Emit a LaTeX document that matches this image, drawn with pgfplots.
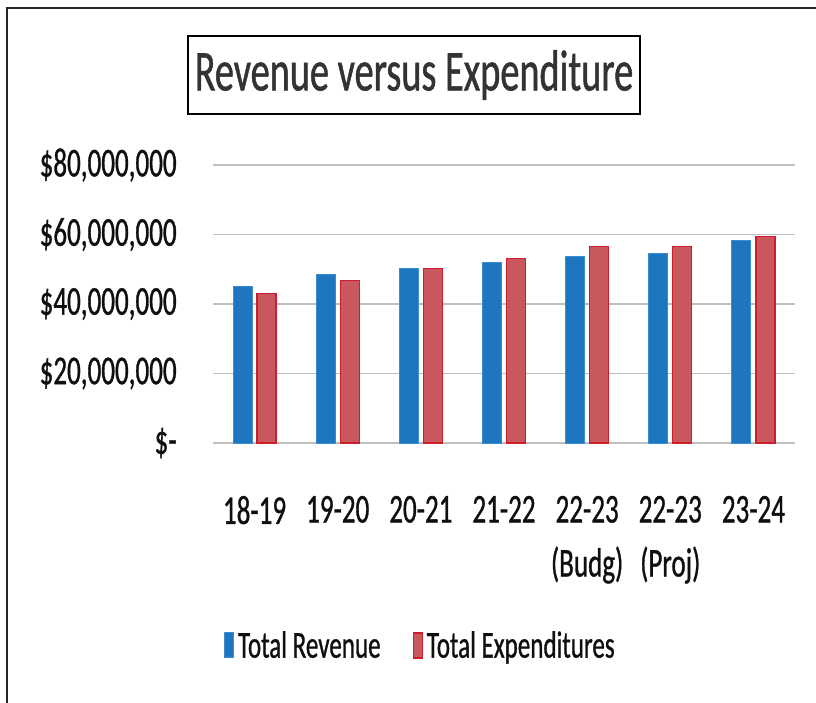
\documentclass[border=0pt]{standalone}
\usepackage{pgfplots}
\pgfplotsset{compat=1.18}
\usepackage{fontspec}
\setmainfont{Carlito}[FakeStretch=0.66, FakeBold=0.8]
\definecolor{revblue}{RGB}{30,118,190}
\definecolor{revblueedge}{RGB}{60,140,210}
\definecolor{expred}{RGB}{200,88,94}
\definecolor{expredge}{RGB}{205,30,42}
\definecolor{txt}{RGB}{15,15,15}
\begin{document}
\begin{tikzpicture}
\useasboundingbox (0,0) rectangle (408pt,351.5pt);
% scan frame
\draw[line width=1.2pt, black!85] (3.5pt,0) -- (3.5pt,347.5pt) -- (408pt,347.5pt);
% title
\node[draw=black, line width=0.8pt, minimum width=226pt, minimum height=39pt, inner sep=0pt,
      text=black!80, font=\fontsize{29}{32}\selectfont] at (207pt,314pt) {Revenue versus Expenditure};
\begin{axis}[
  at={(106.5pt,130pt)}, anchor=south west,
  scale only axis, width=291pt, height=139pt,
  xmin=-0.5, xmax=6.5, ymin=0, ymax=80000000,
  axis line style={draw=none},
  tick style={draw=none},
  ymajorgrids, grid style={black!25, line width=0.6pt},
  ytick={0,20000000,40000000,60000000,80000000},
  yticklabels={\$-\hspace{6pt},{\$20,000,000},{\$40,000,000},{\$60,000,000},{\$80,000,000}},
  yticklabel style={anchor=east, inner sep=0pt, xshift=-18pt, text=txt, font=\fontsize{20.5}{24}\selectfont},
  xtick=data,
  xticklabels={18-19,19-20,20-21,21-22,{22-23\\(Budg)},{22-23\\(Proj)},23-24},
  xticklabel style={align=center, anchor=north, inner sep=0pt, yshift=-22pt, text=txt, font=\fontsize{20.5}{27}\selectfont},
  scaled y ticks=false,
  ybar, bar width=9.5pt,
  legend style={at={(0.358,-0.73)}, anchor=center, draw=none, fill=none,
    legend columns=2, font=\fontsize{19}{22}\selectfont, text=txt,
    /tikz/every even column/.append style={column sep=14pt}},
  legend image code/.code={\fill[#1] (-2pt,-6pt) rectangle (2.5pt,6.5pt);},
]
\addplot[bar shift=-6pt, fill=revblue, draw=revblueedge, line width=0.5pt] coordinates {
 (0,45000000) (1,48500000) (2,50300000) (3,52000000) (4,53800000) (5,54500000) (6,58300000)};
\addplot[bar shift=6pt, fill=expred, draw=expredge, line width=0.6pt] coordinates {
 (0,43100000) (1,46800000) (2,50300000) (3,53000000) (4,56500000) (5,56500000) (6,59500000)};
\legend{Total Revenue, Total Expenditures}
\end{axis}
\end{tikzpicture}
\end{document}
